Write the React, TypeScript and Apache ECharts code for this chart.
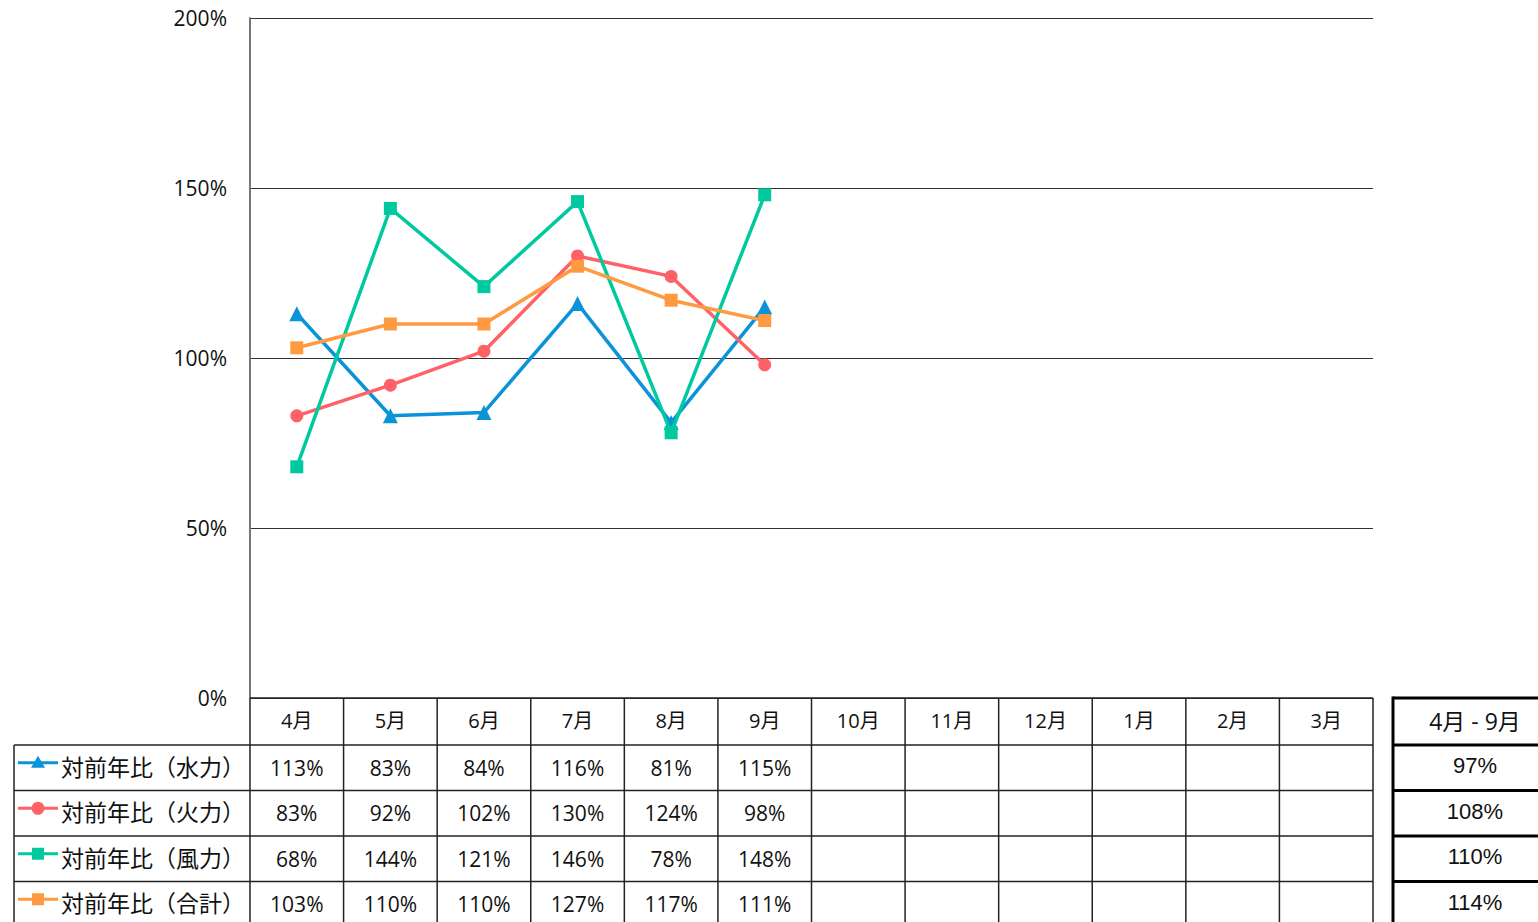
import React, { useEffect, useRef } from "react";
import * as echarts from "echarts";

const months = ["4月", "5月", "6月", "7月", "8月", "9月", "10月", "11月", "12月", "1月", "2月", "3月"];
const seriesNames = ["対前年比（水力）", "対前年比（火力）", "対前年比（風力）", "対前年比（合計）"];
const hydro = [113, 83, 84, 116, 81, 115];
const thermal = [83, 92, 102, 130, 124, 98];
const wind = [68, 144, 121, 146, 78, 148];
const total = [103, 110, 110, 127, 117, 111];
const summaryLabel = "4月 - 9月";
const summary = [97, 108, 110, 114];
const colors = ["#0a93d9", "#ff6166", "#00c9a0", "#ff9a40"];
const symbols = ["triangle", "circle", "rect", "rect"];
const yTicks = [0, 50, 100, 150, 200];

const W = 1538;
const H = 922;
const GL = 250;
const GR = 1373;
const GT = 18;
const GB = 698;
const ROW_H = 45.5;
const HEADER_H = 47;
const LEG_X = 14;
const SUM_X = 1393;
const SUM_W = 164;
const FONT = "'Open Sans', 'Noto Sans CJK JP', sans-serif";
const CJK = "'Noto Sans CJK JP', sans-serif";
const LINE = "#222";

export default function App() {
  const ref = useRef<HTMLDivElement>(null);
  useEffect(() => {
    if (!ref.current) return;
    const chart = echarts.init(ref.current, undefined, { renderer: "svg" });
    const all = [hydro, thermal, wind, total];
    const cellW = (GR - GL) / months.length;
    const rowsTop = GB + HEADER_H;
    const g: any[] = [];
    const ln = (x1: number, y1: number, x2: number, y2: number, w = 1.5, c = LINE) =>
      g.push({ type: "line", shape: { x1, y1, x2, y2 }, style: { stroke: c, lineWidth: w }, silent: true, z: 10 });

    // month table
    for (let i = 0; i <= months.length; i++) ln(GL + i * cellW, GB, GL + i * cellW, H);
    ln(GL, GB, GR, GB);
    ln(LEG_X, rowsTop, GR, rowsTop);
    for (let r = 1; r <= all.length; r++) ln(LEG_X, rowsTop + r * ROW_H, GR, rowsTop + r * ROW_H);
    ln(LEG_X, rowsTop, LEG_X, H);
    months.forEach((m, i) =>
      g.push({ type: "text", x: GL + (i + 0.5) * cellW, y: GB + HEADER_H / 2 - 1, style: { text: m, font: `20px ${FONT}`, fill: "#111", align: "center", verticalAlign: "middle" }, z: 11 })
    );
    all.forEach((vals, r) => {
      const cy = rowsTop + (r + 0.5) * ROW_H;
      // legend
      g.push({ type: "line", shape: { x1: LEG_X + 4, y1: cy - 5, x2: LEG_X + 44, y2: cy - 5 }, style: { stroke: colors[r], lineWidth: 3 }, z: 11 });
      const mx = LEG_X + 24;
      const my = cy - 5;
      if (symbols[r] === "triangle")
        g.push({ type: "polygon", shape: { points: [[mx, my - 7], [mx - 7, my + 5], [mx + 7, my + 5]] }, style: { fill: colors[r] }, z: 12 });
      else if (symbols[r] === "circle")
        g.push({ type: "circle", shape: { cx: mx, cy: my, r: 6.5 }, style: { fill: colors[r] }, z: 12 });
      else g.push({ type: "rect", shape: { x: mx - 6, y: my - 6, width: 12, height: 12 }, style: { fill: colors[r] }, z: 12 });
      g.push({ type: "text", x: LEG_X + 47, y: cy - 2, style: { text: seriesNames[r], font: `23px ${CJK}`, fill: "#111", align: "left", verticalAlign: "middle" }, z: 11 });
      vals.forEach((v, i) =>
        g.push({ type: "text", x: GL + (i + 0.5) * cellW, y: cy, style: { text: `${v}%`, font: `21px ${FONT}`, fill: "#111", align: "center", verticalAlign: "middle" }, z: 11 })
      );
    });

    // summary table
    const sc = SUM_X + SUM_W / 2;
    ln(SUM_X, GB, SUM_X + SUM_W, GB, 3, "#000");
    ln(SUM_X, GB - 1.5, SUM_X, H, 3, "#000");
    for (let r = 0; r < summary.length; r++) ln(SUM_X, rowsTop + r * ROW_H, SUM_X + SUM_W, rowsTop + r * ROW_H, 3, "#000");
    g.push({ type: "text", x: sc, y: GB + HEADER_H / 2 - 1, style: { text: summaryLabel, font: `23px ${FONT}`, fill: "#111", align: "center", verticalAlign: "middle" }, z: 11 });
    summary.forEach((v, r) =>
      g.push({ type: "text", x: sc, y: rowsTop + (r + 0.5) * ROW_H - 2, style: { text: `${v}%`, font: `22px 'Liberation Sans', Arial, sans-serif`, fill: "#111", align: "center", verticalAlign: "middle" }, z: 11 })
    );

    chart.setOption({
      animation: false,
      grid: { left: GL, right: W - GR, top: GT, bottom: H - GB, containLabel: false },
      xAxis: {
        type: "category",
        data: months,
        boundaryGap: true,
        axisLine: { show: false },
        axisTick: { show: false },
        axisLabel: { show: false },
        splitLine: { show: false },
      },
      yAxis: {
        type: "value",
        min: yTicks[0],
        max: yTicks[yTicks.length - 1],
        interval: yTicks[1] - yTicks[0],
        axisLine: { show: true, lineStyle: { color: "#777", width: 2 } },
        axisTick: { show: false },
        axisLabel: { formatter: "{value}%", fontSize: 21, color: "#111", fontFamily: FONT, margin: 23 },
        splitLine: { show: true, lineStyle: { color: "#333", width: 1 } },
      },
      series: all.map((d, i) => ({
        name: seriesNames[i],
        type: "line",
        data: d,
        symbol: symbols[i],
        symbolSize: symbols[i] === "triangle" ? 15 : 13,
        lineStyle: { color: colors[i], width: 3.5 },
        itemStyle: { color: colors[i] },
        z: 3 + i,
      })),
      graphic: g,
    });
    return () => chart.dispose();
  }, []);
  return <div ref={ref} style={{ position: "fixed", left: 0, top: 0, width: W, height: H, background: "#fff" }} />;
}
